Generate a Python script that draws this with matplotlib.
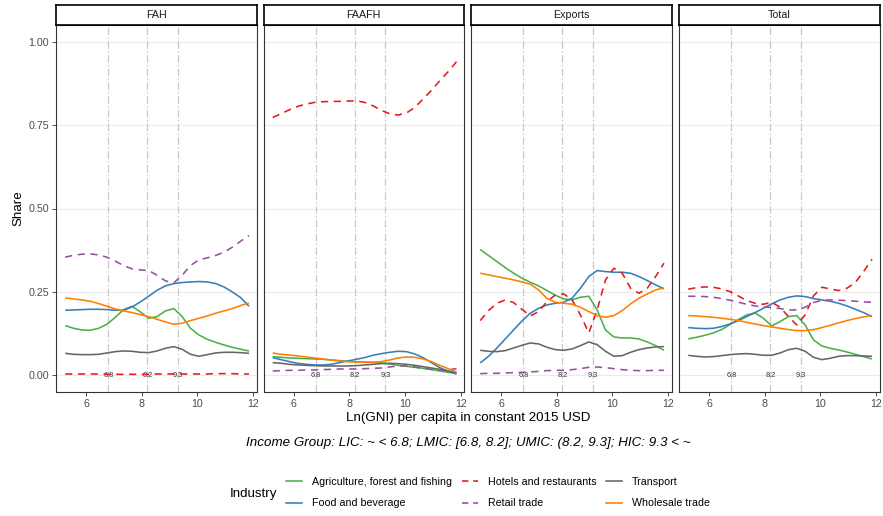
import matplotlib
matplotlib.use("Agg")
import matplotlib.pyplot as plt
from matplotlib.lines import Line2D

plt.rcParams['font.family'] = ['Liberation Sans', 'DejaVu Sans']

# ---------------- data ----------------
x_ln = [5.25, 5.55, 5.85, 6.15, 6.45, 6.75, 7.05, 7.35, 7.65, 7.95, 8.25, 8.55,
        8.85, 9.15, 9.45, 9.75, 10.05, 10.35, 10.65, 10.95, 11.25, 11.55, 11.85]

panels = ["FAH", "FAAFH", "Exports", "Total"]
industries = ["Agriculture, forest and fishing", "Food and beverage", "Hotels and restaurants",
              "Retail trade", "Transport", "Wholesale trade"]
thresholds = [6.8, 8.2, 9.3]
threshold_labels = ["6.8", "8.2", "9.3"]
x_ticks = [6, 8, 10, 12]
y_ticks = [0.00, 0.25, 0.50, 0.75, 1.00]
y_tick_labels = ["0.00", "0.25", "0.50", "0.75", "1.00"]

fah_agri = [0.149, 0.141, 0.136, 0.135, 0.141, 0.153, 0.174, 0.197, 0.207, 0.190, 0.171, 0.176,
            0.193, 0.200, 0.176, 0.141, 0.121, 0.108, 0.099, 0.091, 0.084, 0.078, 0.073]
fah_food = [0.195, 0.196, 0.197, 0.198, 0.198, 0.197, 0.195, 0.195, 0.205, 0.220, 0.237, 0.255,
            0.268, 0.275, 0.278, 0.280, 0.281, 0.280, 0.275, 0.265, 0.250, 0.233, 0.207]
fah_hotel = [0.004, 0.004, 0.004, 0.004, 0.004, 0.003, 0.003, 0.003, 0.003, 0.003, 0.003, 0.004,
             0.004, 0.004, 0.004, 0.004, 0.004, 0.004, 0.005, 0.005, 0.005, 0.004, 0.004]
fah_retail = [0.354, 0.360, 0.363, 0.364, 0.361, 0.354, 0.342, 0.329, 0.319, 0.316, 0.314, 0.300,
              0.283, 0.277, 0.300, 0.329, 0.346, 0.352, 0.359, 0.369, 0.384, 0.402, 0.419]
fah_transport = [0.066, 0.063, 0.062, 0.062, 0.063, 0.067, 0.071, 0.073, 0.072, 0.069, 0.068, 0.073,
                 0.081, 0.086, 0.078, 0.063, 0.057, 0.062, 0.067, 0.069, 0.069, 0.068, 0.066]
fah_wholesale = [0.232, 0.229, 0.226, 0.222, 0.215, 0.207, 0.199, 0.193, 0.188, 0.182, 0.176, 0.168,
                 0.160, 0.153, 0.156, 0.164, 0.171, 0.178, 0.186, 0.193, 0.200, 0.209, 0.217]

faafh_agri = [0.056, 0.054, 0.052, 0.051, 0.050, 0.049, 0.048, 0.046, 0.044, 0.042, 0.040, 0.040,
              0.039, 0.037, 0.034, 0.030, 0.027, 0.024, 0.021, 0.017, 0.013, 0.009, 0.006]
faafh_food = [0.053, 0.047, 0.041, 0.036, 0.033, 0.031, 0.031, 0.033, 0.038, 0.043, 0.048, 0.053,
              0.060, 0.065, 0.069, 0.072, 0.071, 0.064, 0.053, 0.038, 0.023, 0.012, 0.004]
faafh_hotel = [0.773, 0.784, 0.796, 0.806, 0.813, 0.818, 0.820, 0.821, 0.821, 0.822, 0.823, 0.818,
               0.808, 0.794, 0.784, 0.780, 0.786, 0.803, 0.828, 0.854, 0.883, 0.910, 0.940]
faafh_retail = [0.013, 0.014, 0.015, 0.015, 0.016, 0.016, 0.017, 0.018, 0.019, 0.019, 0.019, 0.020,
                0.021, 0.022, 0.025, 0.028, 0.028, 0.025, 0.021, 0.018, 0.016, 0.017, 0.020]
faafh_transport = [0.038, 0.036, 0.033, 0.031, 0.030, 0.029, 0.028, 0.028, 0.028, 0.028, 0.029, 0.031,
                   0.033, 0.035, 0.036, 0.035, 0.033, 0.030, 0.026, 0.022, 0.018, 0.013, 0.008]
faafh_wholesale = [0.067, 0.063, 0.061, 0.058, 0.055, 0.052, 0.049, 0.046, 0.043, 0.041, 0.040, 0.039,
                   0.039, 0.041, 0.046, 0.052, 0.055, 0.054, 0.049, 0.041, 0.030, 0.020, 0.010]

exp_agri = [0.377, 0.359, 0.341, 0.323, 0.306, 0.291, 0.279, 0.268, 0.254, 0.240, 0.229, 0.226,
            0.234, 0.237, 0.196, 0.136, 0.115, 0.112, 0.112, 0.109, 0.100, 0.089, 0.075]
exp_food = [0.037, 0.057, 0.082, 0.109, 0.136, 0.163, 0.186, 0.201, 0.211, 0.216, 0.219, 0.231,
            0.261, 0.296, 0.314, 0.311, 0.309, 0.309, 0.306, 0.296, 0.284, 0.271, 0.259]
exp_hotel = [0.164, 0.194, 0.216, 0.226, 0.218, 0.198, 0.178, 0.191, 0.221, 0.241, 0.244, 0.226,
             0.181, 0.127, 0.196, 0.286, 0.321, 0.306, 0.261, 0.246, 0.261, 0.296, 0.336]
exp_retail = [0.005, 0.006, 0.006, 0.007, 0.008, 0.009, 0.010, 0.012, 0.014, 0.015, 0.015, 0.017,
              0.020, 0.024, 0.025, 0.023, 0.020, 0.017, 0.015, 0.014, 0.014, 0.015, 0.015]
exp_transport = [0.075, 0.072, 0.071, 0.074, 0.082, 0.090, 0.097, 0.094, 0.084, 0.077, 0.075, 0.079,
                 0.089, 0.100, 0.092, 0.072, 0.057, 0.059, 0.069, 0.077, 0.082, 0.085, 0.086]
exp_wholesale = [0.306, 0.301, 0.296, 0.291, 0.286, 0.280, 0.273, 0.256, 0.230, 0.219, 0.216, 0.213,
                 0.204, 0.191, 0.179, 0.174, 0.179, 0.194, 0.214, 0.231, 0.244, 0.256, 0.262]

tot_agri = [0.109, 0.114, 0.120, 0.127, 0.137, 0.152, 0.167, 0.181, 0.187, 0.171, 0.148, 0.161,
            0.176, 0.179, 0.151, 0.106, 0.088, 0.081, 0.076, 0.070, 0.063, 0.056, 0.049]
tot_food = [0.143, 0.141, 0.140, 0.141, 0.146, 0.154, 0.164, 0.176, 0.188, 0.201, 0.214, 0.226,
            0.234, 0.238, 0.236, 0.230, 0.226, 0.222, 0.216, 0.208, 0.198, 0.188, 0.176]
tot_hotel = [0.258, 0.263, 0.265, 0.264, 0.259, 0.251, 0.238, 0.224, 0.216, 0.213, 0.219, 0.204,
             0.176, 0.151, 0.181, 0.238, 0.264, 0.259, 0.254, 0.261, 0.278, 0.311, 0.348]
tot_retail = [0.237, 0.237, 0.236, 0.234, 0.230, 0.225, 0.219, 0.213, 0.208, 0.205, 0.203, 0.200,
              0.196, 0.196, 0.204, 0.218, 0.225, 0.226, 0.225, 0.224, 0.222, 0.220, 0.219]
tot_transport = [0.060, 0.057, 0.055, 0.056, 0.059, 0.062, 0.064, 0.065, 0.063, 0.060, 0.060, 0.067,
                 0.077, 0.081, 0.072, 0.054, 0.047, 0.051, 0.057, 0.059, 0.059, 0.058, 0.057]
tot_wholesale = [0.179, 0.178, 0.176, 0.174, 0.171, 0.168, 0.164, 0.159, 0.154, 0.149, 0.145, 0.141,
                 0.137, 0.134, 0.134, 0.137, 0.143, 0.150, 0.157, 0.164, 0.170, 0.175, 0.179]

panel_series = {
    "FAH": [fah_agri, fah_food, fah_hotel, fah_retail, fah_transport, fah_wholesale],
    "FAAFH": [faafh_agri, faafh_food, faafh_hotel, faafh_retail, faafh_transport, faafh_wholesale],
    "Exports": [exp_agri, exp_food, exp_hotel, exp_retail, exp_transport, exp_wholesale],
    "Total": [tot_agri, tot_food, tot_hotel, tot_retail, tot_transport, tot_wholesale],
}

# ---------------- styles ----------------
colors = ["#4DAF4A", "#377EB8", "#E41A1C", "#984EA3", "#666666", "#FF7F00"]
dashed = [False, False, True, True, False, False]
LW = 1.15
DASH = (0, (4.5, 3.5))
LEG_DASH = (0, (4, 3))
FS_SMALL = 7.7
FS_TITLE = 9.6

W, H = 883, 516
fig = plt.figure(figsize=(W / 100, H / 100), dpi=100)

panel_left = [56, 263.5, 471, 679]
panel_w = 200.5
top_px, bot_px = 25, 392
strip_top = 5

def fx(px):
    return px / W

def fy(py):
    return 1 - py / H

for i, name in enumerate(panels):
    l = panel_left[i]
    ax = fig.add_axes([fx(l), fy(bot_px), panel_w / W, (bot_px - top_px) / H])
    ax.set_xlim(4.92, 12.12)
    ax.set_ylim(-0.05, 1.05)
    for yt in y_ticks:
        ax.axhline(yt, color="#EBEBEB", lw=0.8, zorder=0)
    for t, tl in zip(thresholds, threshold_labels):
        ax.axvline(t, color="#C8C8C8", lw=0.9, ls=(0, (6, 2, 1, 2)), zorder=1)
        ax.text(t, 0, tl, fontsize=5.3, color="#333333", ha="center", va="center", zorder=2)
    for k, vals in enumerate(panel_series[name]):
        ax.plot(x_ln, vals, color=colors[k], lw=LW,
                ls=DASH if dashed[k] else "-", zorder=3 + k,
                solid_capstyle="butt", dash_capstyle="butt")
    ax.set_xticks(x_ticks)
    ax.set_xticklabels([str(v) for v in x_ticks])
    ax.set_yticks(y_ticks)
    if i == 0:
        ax.set_yticklabels(y_tick_labels)
    else:
        ax.tick_params(axis="y", left=False, labelleft=False)
    ax.tick_params(axis="both", length=2.75, width=0.6, color="#333333",
                   labelsize=FS_SMALL, labelcolor="#4D4D4D", pad=2.2)
    for sp in ax.spines.values():
        sp.set_color("#333333")
        sp.set_linewidth(0.8)
    # strip
    sax = fig.add_axes([fx(l), fy(top_px), panel_w / W, (top_px - strip_top) / H])
    sax.set_xticks([])
    sax.set_yticks([])
    for sp in sax.spines.values():
        sp.set_color("#000000")
        sp.set_linewidth(1.2)
    sax.set_facecolor("white")
    sax.text(0.5, 0.5, name, ha="center", va="center", fontsize=FS_SMALL, color="#1A1A1A",
             transform=sax.transAxes)

center_x = (56 + 880) / 2
fig.text(fx(18), fy((top_px + bot_px) / 2), "Share", rotation=90, ha="center", va="center",
         fontsize=FS_TITLE, color="black")
fig.text(fx(center_x), fy(418.5), "Ln(GNI) per capita in constant 2015 USD", ha="center",
         va="center", fontsize=FS_TITLE, color="black")
fig.text(fx(center_x), fy(443),
         "Income Group: LIC: ~ < 6.8; LMIC: [6.8, 8.2]; UMIC: (8.2, 9.3]; HIC: 9.3 < ~",
         ha="center", va="center", fontsize=FS_TITLE, style="italic", color="black")

handles = [Line2D([0], [0], color=colors[k], lw=LW, ls=LEG_DASH if dashed[k] else "-",
                  dash_capstyle="butt")
           for k in range(len(industries))]
fig.text(fx(230), fy(493.5), "Industry", ha="left", va="center", fontsize=FS_TITLE)
fig.legend(handles, industries, loc="center left", bbox_to_anchor=(fx(284), fy(492.5)),
           ncol=3, frameon=False, fontsize=FS_SMALL, handlelength=1.5, handletextpad=0.9,
           columnspacing=0.95, labelspacing=1.1, borderpad=0.2, borderaxespad=0)

fig.savefig("out.png", dpi=100, facecolor="white")
